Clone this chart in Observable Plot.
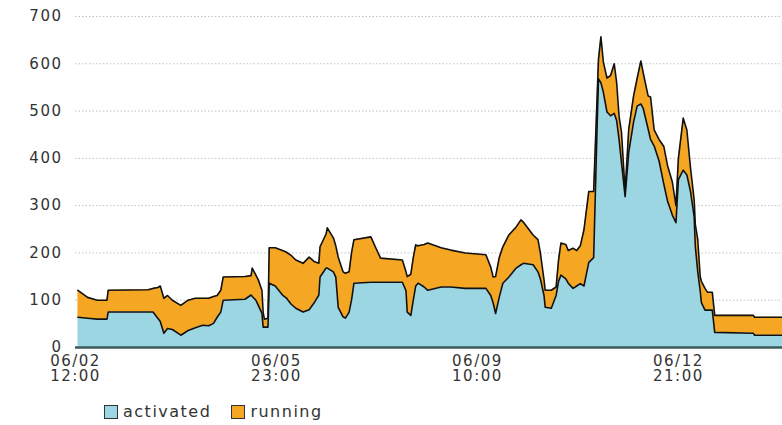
<!DOCTYPE html>
<html>
<head>
<meta charset="utf-8">
<script src="https://cdn.jsdelivr.net/npm/d3@7"></script>
<script src="https://cdn.jsdelivr.net/npm/@observablehq/plot@0.6"></script>
<style>
  html, body { margin: 0; padding: 0; background: #fff; }
  body { width: 782px; height: 425px; overflow: hidden; font-family: "DejaVu Sans", sans-serif; }
  #legend { height: 27px; display: flex; align-items: center; padding-left: 104px; font-size: 16px; color: #333; letter-spacing: 1.5px; }
  .item { display: flex; align-items: center; margin-right: 20px; }
  .sw { width: 12px; height: 12px; border: 1px solid #333; margin-right: 5px; }
  svg .ax text { letter-spacing: 1.5px; }
</style>
</head>
<body>
<div id="chart"></div>
<div id="legend"></div>
<script>
const seriesNames = ["activated", "running"];
const seriesColors = ["#9dd6e3", "#f5a623"];

const times = [
  "06-02 13:00","06-02 17:00","06-02 21:00","06-03 01:00","06-03 01:30","06-03 18:00","06-03 20:00","06-03 22:00",
  "06-03 23:00","06-04 00:30","06-04 02:00","06-04 04:00","06-04 07:30","06-04 10:30","06-04 13:30","06-04 16:30",
  "06-04 19:00","06-04 21:00","06-04 22:30","06-05 00:00","06-05 01:00","06-05 10:00","06-05 12:30","06-05 13:00",
  "06-05 14:30","06-05 15:30","06-05 17:00","06-05 17:30","06-05 18:00","06-05 19:30","06-05 20:00","06-05 22:30",
  "06-06 01:30","06-06 03:00","06-06 05:00","06-06 07:00","06-06 10:00","06-06 12:30","06-06 14:30","06-06 16:30",
  "06-06 17:00","06-06 19:30","06-06 20:00","06-06 22:30","06-06 23:30","06-07 00:30","06-07 02:30","06-07 03:30",
  "06-07 05:00","06-07 06:00","06-07 07:00","06-07 14:00","06-07 16:00","06-07 18:00","06-08 03:00","06-08 04:30",
  "06-08 05:00","06-08 06:30","06-08 07:30","06-08 08:30","06-08 09:30","06-08 12:00","06-08 13:30","06-08 19:00",
  "06-08 23:00","06-09 05:00","06-09 13:30","06-09 15:30","06-09 16:30","06-09 17:30","06-09 19:00","06-09 20:30",
  "06-09 23:00","06-10 02:00","06-10 04:00","06-10 05:00","06-10 09:00","06-10 11:00","06-10 12:00","06-10 13:30",
  "06-10 14:00","06-10 16:30","06-10 18:30","06-10 19:30","06-10 20:30","06-10 22:30","06-10 23:30","06-11 01:30",
  "06-11 03:00","06-11 04:30","06-11 06:00","06-11 08:00","06-11 10:00","06-11 11:30","06-11 12:00","06-11 13:00",
  "06-11 14:00","06-11 15:30","06-11 17:00","06-11 18:30","06-11 19:30","06-11 20:30","06-11 21:30","06-11 23:00",
  "06-12 00:30","06-12 02:30","06-12 04:00","06-12 05:30","06-12 06:30","06-12 08:30","06-12 09:30","06-12 11:00",
  "06-12 13:00","06-12 15:00","06-12 16:30","06-12 18:30","06-12 20:00","06-12 21:00","06-12 23:00","06-13 00:30",
  "06-13 02:00","06-13 03:30","06-13 04:00","06-13 05:00","06-13 06:00","06-13 06:30","06-13 08:00","06-13 09:00",
  "06-13 11:00","06-13 12:00","06-14 04:00","06-14 04:30","06-14 16:00"
];

const activated = [
  64,62,60,60,75,75,75,62,
  55,30,40,38,26,36,42,47,
  46,51,64,75,100,102,111,108,
  100,89,72,43,43,43,136,130,
  111,105,92,83,75,80,94,111,
  149,168,168,160,149,85,65,62,
  75,100,136,138,138,138,138,120,
  75,68,100,130,136,128,121,128,
  128,125,125,110,94,72,106,136,
  149,168,175,178,175,160,145,110,
  85,83,110,140,153,145,136,125,
  130,135,130,180,190,480,568,560,
  540,498,490,495,480,440,391,319,
  413,477,511,515,505,462,440,426,
  395,345,310,280,264,355,375,365,
  330,277,213,160,120,95,79,79,
  79,32,30,26,26
];

const running = [
  57,44,40,40,46,47,50,65,
  75,74,70,62,63,64,62,57,
  58,57,46,46,49,48,41,60,
  53,54,49,32,17,19,75,81,
  94,97,103,102,103,111,88,67,
  64,72,85,72,66,106,95,95,
  85,100,92,96,73,51,47,40,
  75,87,90,87,79,90,100,83,
  78,75,71,60,55,78,84,77,
  89,87,95,87,63,68,55,33,
  36,38,18,45,68,73,69,85,
  75,80,119,150,140,60,42,97,
  64,72,85,105,80,49,64,11,
  49,55,59,91,75,70,90,34,
  45,80,75,70,36,45,110,95,
  50,36,47,68,30,45,46,38,
  38,36,38,38,38
];

const yTicks = [0, 100, 200, 300, 400, 500, 600, 700];
const xTicks = ["06-02 12:00", "06-05 23:00", "06-09 10:00", "06-12 21:00"];
const xDomain = ["06-02 12:00", "06-14 16:00"];

const parse = d3.utcParse("%m-%d %H:%M");
const data = times.map((t, i) => ({
  time: parse(t),
  activated: activated[i],
  running: running[i],
  total: activated[i] + running[i]
}));

const chart = Plot.plot({
  width: 782,
  height: 398,
  marginLeft: 75,
  marginRight: 0,
  marginTop: 16,
  marginBottom: 51,
  style: { fontFamily: "DejaVu Sans, sans-serif", fontSize: "15px", color: "#333", background: "#fff" },
  x: { type: "utc", domain: xDomain.map(parse), axis: null },
  y: { domain: [0, 700], axis: null },
  marks: [
    Plot.ruleY(yTicks.filter(d => d > 0), { stroke: "#c2c2c2", strokeDasharray: "1.5,2", strokeWidth: 1 }),
    Plot.areaY(data, { x: "time", y1: 0, y2: "activated", fill: seriesColors[0] }),
    Plot.areaY(data, { x: "time", y1: "activated", y2: "total", fill: seriesColors[1] }),
    Plot.lineY(data, { x: "time", y: "activated", stroke: "#111", strokeWidth: 1.6 }),
    Plot.lineY(data, { x: "time", y: "total", stroke: "#111", strokeWidth: 1.6 }),
    Plot.ruleY([0], { stroke: "#3a5a5c", strokeWidth: 2.5 }),
    Plot.axisY(yTicks, { tickSize: 0, tickPadding: 13, fontSize: 15, fill: "#333", className: "ax" }),
    Plot.axisX(xTicks.map(parse), { tickSize: 0, tickPadding: 8, fontSize: 15, fill: "#333", className: "ax",
      tickFormat: d3.utcFormat("%m/%d\n%H:%M") })
  ]
});
document.getElementById("chart").appendChild(chart);

const legend = document.getElementById("legend");
seriesNames.forEach((name, i) => {
  const item = document.createElement("div");
  item.className = "item";
  const sw = document.createElement("div");
  sw.className = "sw";
  sw.style.background = seriesColors[i];
  const label = document.createElement("span");
  label.textContent = name;
  item.appendChild(sw);
  item.appendChild(label);
  legend.appendChild(item);
});
</script>
</body>
</html>
